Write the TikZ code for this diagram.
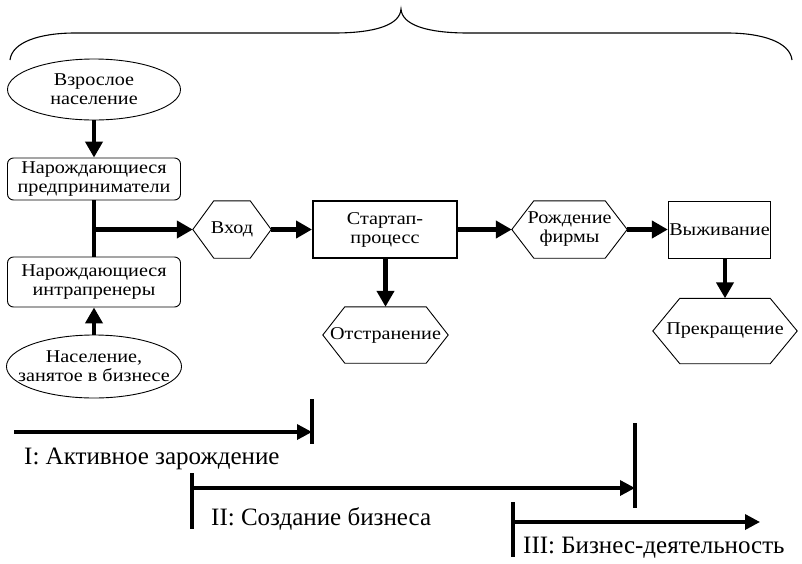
\documentclass[tikz,border=0pt]{standalone}
\usepackage{fontspec}
\setmainfont{Liberation Serif}
\newfontfamily\boxfont{Liberation Serif}[FakeStretch=1.12]
\usetikzlibrary{arrows.meta,shapes.geometric}
% hexagon frame round a named node, #2 = depth of the point
\newcommand\hexframe[2]{\draw[line width=.9pt] (#1.west) -- ([xshift=#2]#1.north west)
  -- ([xshift=-#2]#1.north east) -- (#1.east) -- ([xshift=-#2]#1.south east)
  -- ([xshift=#2]#1.south west) -- cycle;}
\begin{document}
\begin{tikzpicture}[x=1pt,y=1pt,
  every node/.style={font=\boxfont\fontsize{18}{19}\selectfont,align=center,inner sep=1pt},
  oval/.style={ellipse,draw,line width=.9pt,inner xsep=-14pt,inner ysep=-2pt,minimum width=173,minimum height=61},
  rbox/.style={draw,line width=.9pt,rounded corners=6,minimum width=173},
  hexa/.style={inner sep=0pt,minimum height=57},
  flow/.style={line width=4.2pt,-{Triangle[length=16pt,width=17pt]}},
  phase/.style={line width=3.4pt},
  lbl/.style={font=\fontsize{25}{27}\selectfont,anchor=west,inner sep=0pt}]
\useasboundingbox (0,0) rectangle (802,-563);
% brace over the whole process
\draw[line width=1.1pt] (10,-60) .. controls (12,-42) and (40,-33) .. (75,-33) -- (334,-33)
  .. controls (375,-33) and (400,-25) .. (401,-9) .. controls (402,-25) and (427,-33) .. (468,-33)
  -- (727,-33) .. controls (762,-33) and (790,-42) .. (792,-60);
% left column
\node[oval] (adults) at (94,-89.5) {Взрослое\\население};
\node[rbox,minimum height=42] (nascent) at (94,-179) {Нарождающиеся\\предприниматели};
\node[rbox,minimum height=50] (intra) at (94,-282) {Нарождающиеся\\интрапренеры};
\node[oval,minimum width=168,minimum height=63] (employed) at (94,-366.5) {Население,\\занятое в бизнесе};
% main line
\node[hexa,minimum width=78] (entry) at (232,-229.5) {Вход};
\node[draw,line width=2pt,minimum width=144,minimum height=57] (startup) at (385,-229.5) {Стартап-\\процесс};
\node[hexa,minimum width=125,minimum height=56] (quit) at (385.5,-335) {Отстранение};
\node[hexa,minimum width=115] (birth) at (569.5,-229.5) {Рождение\\фирмы};
\node[draw,line width=.9pt,minimum width=101,minimum height=57] (survive) at (719.5,-229.5) {Выживание};
\node[hexa,minimum width=144,minimum height=65] (stop) at (725,-331) {Прекращение};
\hexframe{entry}{21pt}
\hexframe{quit}{22pt}
\hexframe{birth}{22pt}
\hexframe{stop}{27pt}
\coordinate (fork) at (nascent.south |- entry.west);
\draw[flow] (adults) -- (nascent);
\draw[line width=4.2pt] (nascent) -- (intra);
\draw[flow] (fork) -- (entry.west);
\draw[flow] (employed) -- (intra);
\draw[flow] (entry) -- (startup);
\draw[flow] (startup) -- (birth);
\draw[flow] (birth) -- (survive);
\draw[flow] (startup.south -| quit.north) -- (quit.north);
\draw[flow] (stop.north |- survive.south) -- (stop.north);
% phases
\coordinate (s1) at (14,-432);  \coordinate (e1) at (312,-432);
\coordinate (s2) at (192,-488); \coordinate (e2) at (635,-488);
\coordinate (s3) at (513,-522); \coordinate (e3) at (760,-522);
\draw[phase,-{Triangle[length=15pt,width=15pt]}] (s1) -- (e1);
\draw[phase,-{Triangle[length=15pt,width=15pt]}] (s2) -- (e2);
\draw[phase,-{Triangle[length=15pt,width=15pt]}] (s3) -- (e3);
\draw[phase] (312,-399) -- (312,-444);
\draw[phase] (192,-473) -- (192,-529);
\draw[phase] (635,-423) -- (635,-508);
\draw[phase] (513,-502) -- (513,-557);
\node[lbl] (ph1) at (24,-459) {I: Активное зарождение};
\node[lbl] (ph2) at (211,-519) {II: Создание бизнеса};
\node[lbl] (ph3) at (523,-548) {III: Бизнес-деятельность};
\end{tikzpicture}
\end{document}
